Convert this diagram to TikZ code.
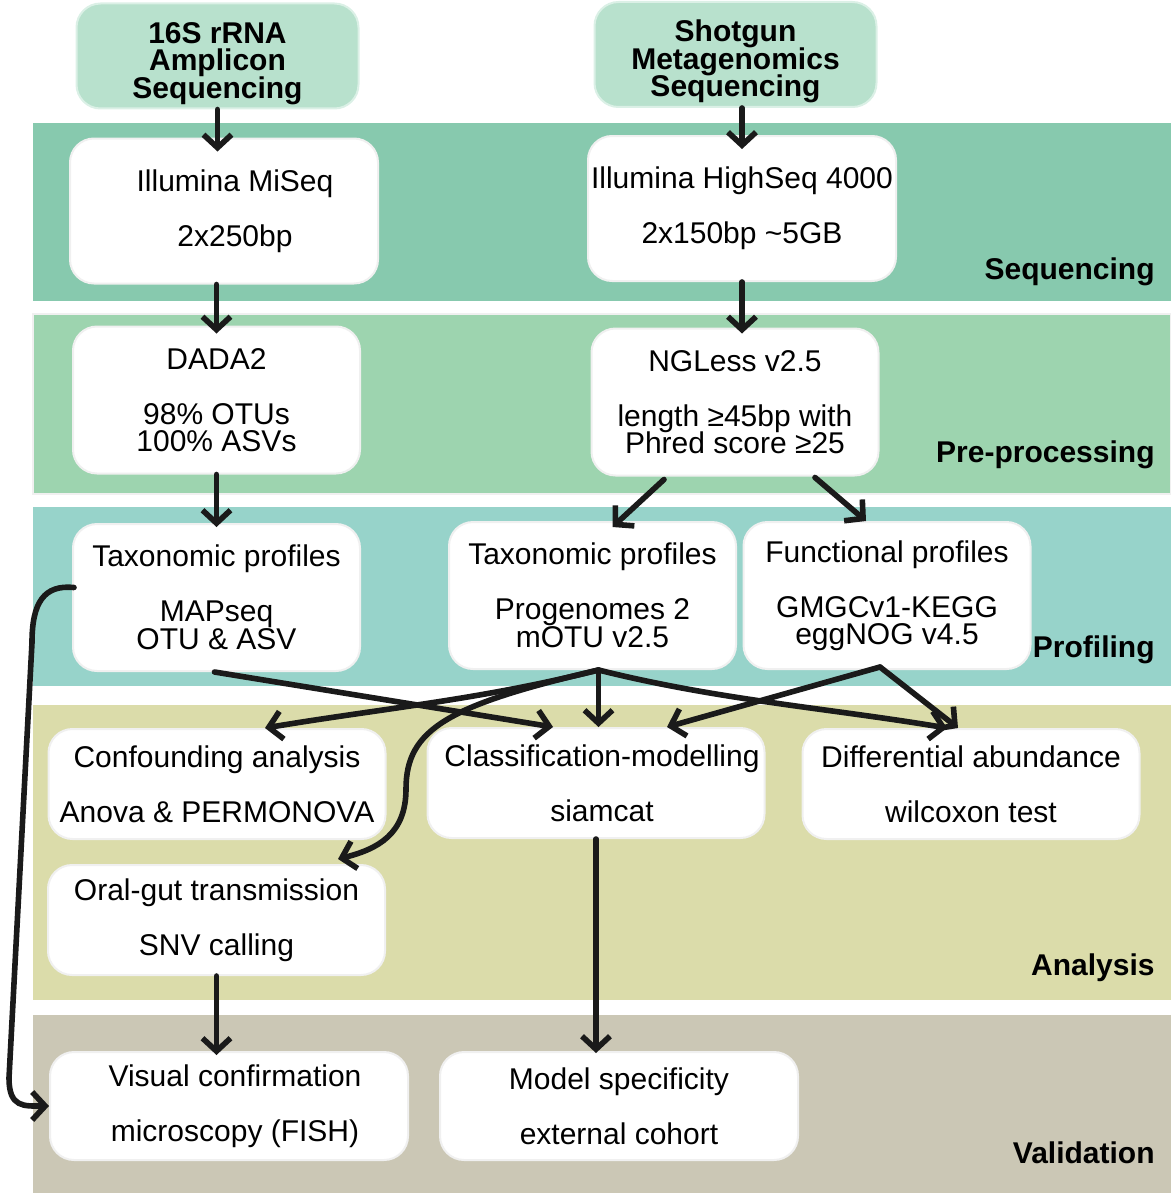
\documentclass[tikz,border=0pt]{standalone}
\usepackage{fontspec}
\setmainfont{Liberation Sans}
\usetikzlibrary{arrows.meta,calc}
\definecolor{seqband}{HTML}{87C9AE}
\definecolor{preband}{HTML}{9DD4AF}
\definecolor{profband}{HTML}{97D3CA}
\definecolor{anaband}{HTML}{DBDCAA}
\definecolor{valband}{HTML}{CBC7B5}
\definecolor{srcfill}{HTML}{B8E1CD}
\definecolor{ink}{HTML}{1A1A1A}
\newcommand\nudge[1]{\hspace*{#1}}
\newcommand\topstrut{\rule{0pt}{15pt}}
\setlength{\lineskiplimit}{-20pt}

\begin{document}
\begin{tikzpicture}[x=0.5pt,y=-0.5pt,font=\fontsize{15}{13.75}\selectfont,
  srcbox/.style={fill=srcfill,draw=srcfill!50!white,line width=1pt,rounded corners=12pt,
    align=center,inner sep=0pt,text depth=0pt,minimum width=141pt,minimum height=52.5pt,
    font=\fontsize{15}{13.75}\selectfont\bfseries},
  wbox/.style={fill=white,draw=black!6,line width=1pt,rounded corners=12pt,align=center,inner sep=0pt},
  wide/.style={wbox,minimum width=154pt,minimum height=72.5pt},
  tall/.style={wbox,minimum width=143.5pt,minimum height=73.5pt},
  flat/.style={wbox,minimum width=168.5pt,minimum height=55pt},
  long/.style={wbox,minimum width=179pt,minimum height=54pt},
  stage/.style={font=\fontsize{15}{13.75}\selectfont\bfseries,inner sep=0pt,anchor=base east},
  flow/.style={draw=ink,line width=2.8pt,line cap=round,-{Straight Barb[length=6.5pt,width=14pt]}}]
  \useasboundingbox (0,0) rectangle (1171,1193);
  % stage bands
  \fill[seqband] (33,123) rectangle (1171,301);
  \filldraw[fill=preband,draw=black!6,line width=1pt] (33,314) rectangle (1171,494);
  \fill[profband] (33,507) rectangle (1171,686);
  \fill[anaband] (33,705) rectangle (1171,1000);
  \fill[valband] (33,1015) rectangle (1171,1193);
  \node[stage] (lseq) at (1155,279) {Sequencing};
  \node[stage] (lpre) at (1155,462) {Pre-processing};
  \node[stage] (lprof) at (1155,657) {Profiling};
  \node[stage] (lana) at (1155,975) {Analysis};
  \node[stage] (lval) at (1155,1163) {Validation};
  % sources
  \node[srcbox] (t16s) at (217.5,56) {\topstrut16S rRNA\\Amplicon\\Sequencing};
  \node[srcbox] (tshot) at (735.5,54.5) {\topstrut Shotgun\\Metagenomics\\Sequencing};
  % steps
  \node[wide] (miseq) at (224,211) {\nudge{11pt}Illumina MiSeq\\[13.75pt]\nudge{11pt}2x250bp};
  \node[wide] (hiseq) at (742,208.5) {Illumina HighSeq 4000\\[13.75pt]2x150bp \textasciitilde5GB};
  \node[tall] (dada2) at (216.5,400) {DADA2\\[13.75pt]98\% OTUs\\100\% ASVs};
  \node[tall] (ngless) at (735,402) {NGLess v2.5\\[13.75pt]length ≥45bp with\\Phred score ≥25};
  \node[tall] (taxl) at (216.5,597.5) {Taxonomic profiles\\[13.75pt]MAPseq\\OTU \& ASV};
  \node[tall] (taxr) at (592.5,595.5) {Taxonomic profiles\\[13.75pt]Progenomes 2\\mOTU v2.5};
  \node[tall] (func) at (887,595.5) {Functional profiles\\[13.75pt]GMGCv1-KEGG\\eggNOG v4.5};
  \node[flat] (confound) at (217,784) {Confounding analysis\\[13.75pt]Anova \& PERMONOVA};
  \node[flat] (classif) at (596,783) {\nudge{6pt}Classification-modelling\\[13.75pt]\nudge{6pt}siamcat};
  \node[flat] (diffab) at (971,784) {Differential abundance\\[13.75pt]wilcoxon test};
  \node[flat] (oralgut) at (216.5,920) {Oral-gut transmission\\[13.75pt]SNV calling};
  \node[long] (visual) at (229,1106) {\nudge{6pt}Visual confirmation\\[13.75pt]\nudge{6pt}microscopy (FISH)};
  \node[long] (model) at (619,1106) {Model specificity\\[13.75pt]external cohort};
  % arrows
  \draw[flow,shorten >=-7pt] (t16s.south) -- (t16s.south |- miseq.north);
  \draw[flow,shorten >=-7pt] (hiseq.north |- tshot.south) -- (hiseq.north);
  \draw[flow,shorten >=-4pt] (dada2.north |- miseq.south) -- (dada2.north);
  \draw[flow,shorten >=-3pt] (hiseq.south) -- (hiseq.south |- ngless.north);
  \draw[flow,shorten >=-2pt] (dada2.south) -- (taxl.north);
  \draw[flow] ($(ngless.south)+(-71,3)$) -- ($(taxr.north)+(20,6)$);
  \draw[flow] ($(ngless.south)+(80,1)$) -- ($(func.north)+(-21,0)$);
  \draw[flow] ($(taxl.south)+(-2,0)$) -- ($(classif.north)+(-43,0)$);
  \coordinate (trout) at ($(taxr.south)+(6,0)$);
  \coordinate (fout) at ($(func.south)+(-7,-3)$);
  \draw[flow] (trout) .. controls +(-120,30) and +(120,-20) .. ($(confound.north)+(48,0)$);
  \draw[flow] (trout) -- (trout |- classif.north);
  \draw[flow] (trout) .. controls +(120,30) and +(-120,-20) .. ($(diffab.north)+(-24,0)$);
  \draw[flow] (trout) .. controls +(-150,35) and +(0,-60) .. ($(oralgut.north east)+(20,-75)$)
    .. controls +(0,45) and +(40,-10) .. ($(oralgut.north east)+(-48,-5)$);
  \draw[flow] (fout) -- ($(classif.north)+(71,0)$);
  \draw[flow] (fout) -- ($(diffab.north)+(-13,0)$);
  \draw[flow,shorten >=-1pt] (classif.south) -- (classif.south |- model.north);
  \draw[flow,shorten >=-2pt] (oralgut.south) -- (oralgut.south |- visual.north);
  \draw[flow] ($(taxl.west)+(2,-10)$) .. controls +(-30,-3) and +(0,-40) .. ($(taxl.west)+(-40,45)$)
    -- ($(visual.west)+(-40,-28)$) .. controls +(0,30) and +(-25,0) .. (visual.west);
\end{tikzpicture}
\end{document}
